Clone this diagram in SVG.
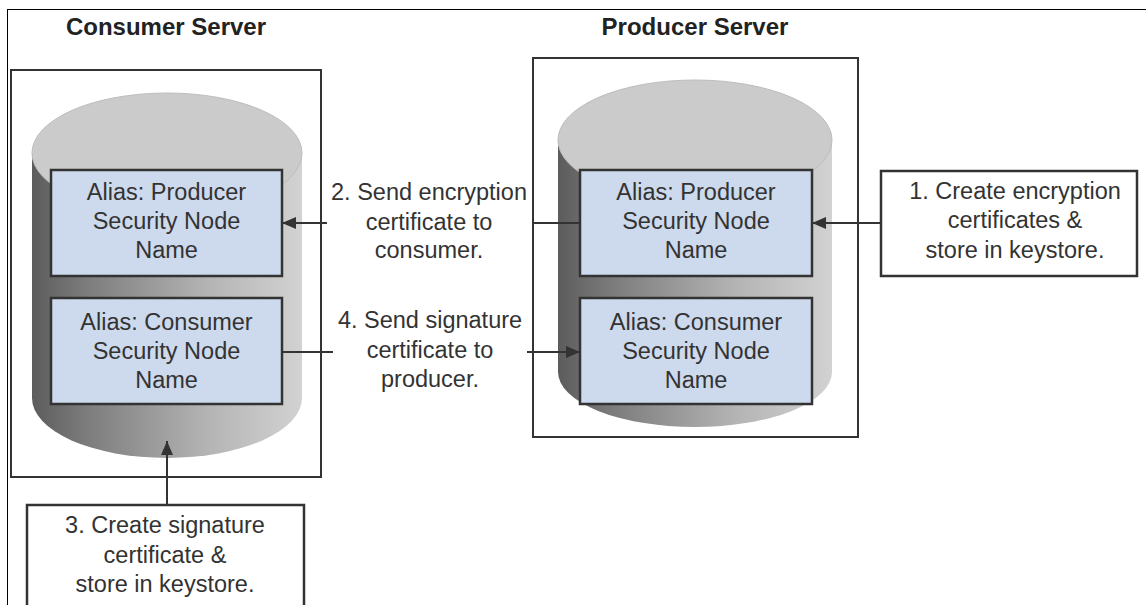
<svg xmlns="http://www.w3.org/2000/svg" width="1146" height="605" viewBox="0 0 1146 605">
<defs>
<style>
.frame{fill:none;stroke:#000;stroke-width:1}
.server{fill:#fff;stroke:#333;stroke-width:2}
.title{font-family:"Liberation Sans",Arial,sans-serif;font-weight:bold;font-size:24px;fill:#222;text-anchor:middle}
.alias{fill:#cdd9ec;stroke:#333;stroke-width:2.5}
.txt{font-family:"Liberation Sans",Arial,sans-serif;font-size:23.5px;fill:#333;text-anchor:middle}
.step{fill:#fff;stroke:#333;stroke-width:2.5}
.conn{fill:none;stroke:#333;stroke-width:2}
.top{fill:#cbcbcb;stroke:#bdbdbd;stroke-width:1}
</style>
<linearGradient id="body" x1="0" y1="0" x2="1" y2="0">
<stop offset="0" stop-color="#5c5c5c"/>
<stop offset="0.2" stop-color="#7c7c7c"/>
<stop offset="0.65" stop-color="#b4b4b4"/>
<stop offset="1" stop-color="#d2d2d2"/>
</linearGradient>
<marker id="ah" viewBox="0 0 14 12" refX="14" refY="6" markerWidth="14" markerHeight="12" markerUnits="userSpaceOnUse" orient="auto">
<path d="M0,0 L14,6 L0,12 Z" fill="#333"/>
</marker>
</defs>
<rect class="frame" x="7.5" y="9.5" width="1160" height="620"/>

<g id="consumer-server">
<text class="title" x="166" y="35">Consumer Server</text>
<rect class="server" x="11" y="70" width="310" height="407"/>
<path d="M32,153 L32,398 A135,60 0 0 0 302,398 L302,153 Z" fill="url(#body)"/>
<ellipse class="top" cx="167" cy="153" rx="135" ry="60"/>
</g>

<g id="producer-server">
<text class="title" x="695" y="35">Producer Server</text>
<rect class="server" x="533" y="58" width="325" height="379"/>
<path d="M558,140 L558,372 A137,55 0 0 0 832,372 L832,140 Z" fill="url(#body)"/>
<ellipse class="top" cx="695" cy="140" rx="137" ry="60"/>
</g>

<g id="consumer-alias-producer">
<rect class="alias" x="51" y="170" width="231" height="106"/>
<text class="txt" x="166.5" y="200">Alias: Producer</text>
<text class="txt" x="166.5" y="229">Security Node</text>
<text class="txt" x="166.5" y="258">Name</text>
</g>

<g id="consumer-alias-consumer">
<rect class="alias" x="51" y="298" width="231" height="106"/>
<text class="txt" x="166.5" y="330">Alias: Consumer</text>
<text class="txt" x="166.5" y="359">Security Node</text>
<text class="txt" x="166.5" y="388">Name</text>
</g>

<g id="producer-alias-producer">
<rect class="alias" x="580" y="170" width="232" height="106"/>
<text class="txt" x="696" y="200">Alias: Producer</text>
<text class="txt" x="696" y="229">Security Node</text>
<text class="txt" x="696" y="258">Name</text>
</g>

<g id="producer-alias-consumer">
<rect class="alias" x="580" y="298" width="232" height="106"/>
<text class="txt" x="696" y="330">Alias: Consumer</text>
<text class="txt" x="696" y="359">Security Node</text>
<text class="txt" x="696" y="388">Name</text>
</g>

<g id="step1">
<rect class="step" x="881" y="171" width="256" height="105"/>
<text class="txt" x="1015" y="199">1. Create encryption</text>
<text class="txt" x="1015" y="228">certificates &amp;</text>
<text class="txt" x="1015" y="258">store in keystore.</text>
</g>

<g id="step3">
<rect class="step" x="27" y="505" width="277" height="120"/>
<text class="txt" x="165" y="533">3. Create signature</text>
<text class="txt" x="165" y="563">certificate &amp;</text>
<text class="txt" x="165" y="592">store in keystore.</text>
</g>

<g id="connectors">
<path class="conn" d="M881,223 L812,223" marker-end="url(#ah)"/>
<path class="conn" d="M580,223 L533,223 M327,223 L282,223" marker-end="url(#ah)"/>
<path class="conn" d="M167,505 L167,441" marker-end="url(#ah)"/>
<path class="conn" d="M282,352 L333,352 M527,352 L580,352" marker-end="url(#ah)"/>
<text class="txt" x="429" y="200">2. Send encryption</text>
<text class="txt" x="429" y="230">certificate to</text>
<text class="txt" x="429" y="258">consumer.</text>
<text class="txt" x="430" y="328">4. Send signature</text>
<text class="txt" x="430" y="358">certificate to</text>
<text class="txt" x="430" y="387">producer.</text>
</g>
</svg>
